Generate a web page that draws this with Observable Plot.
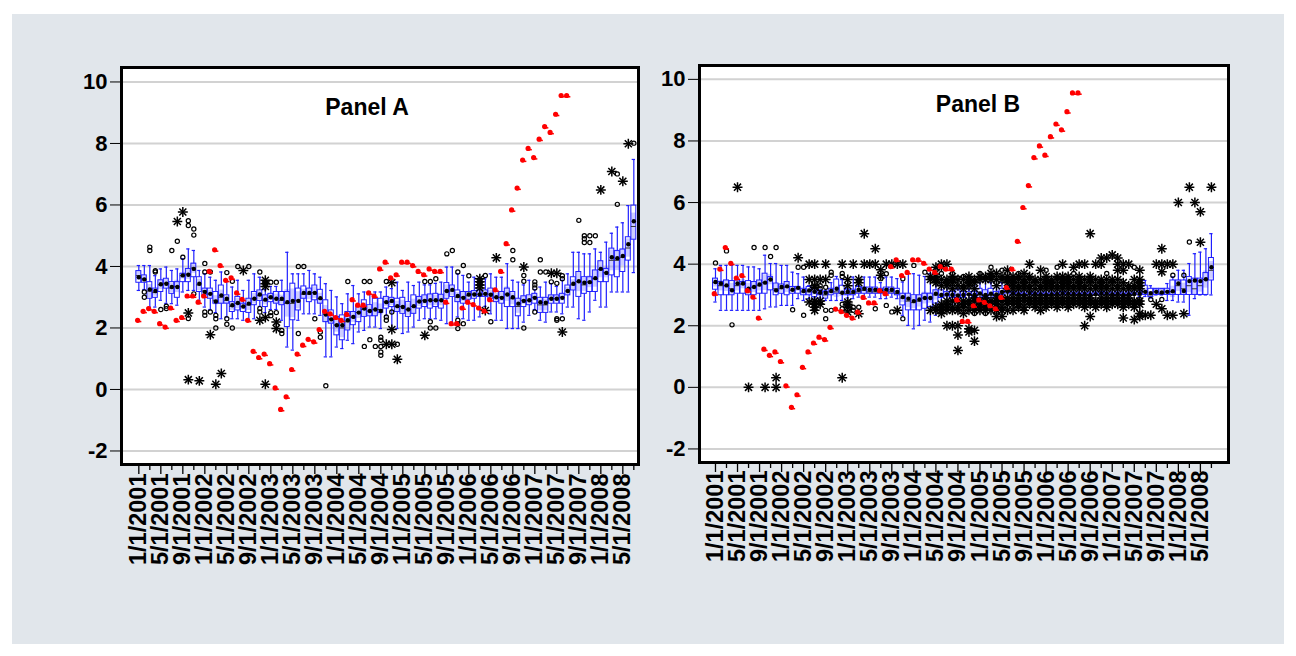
<!DOCTYPE html>
<html><head><meta charset="utf-8">
<script src="https://cdn.jsdelivr.net/npm/d3@7"></script>
<script src="https://cdn.jsdelivr.net/npm/@observablehq/plot@0.6"></script>
<style>
html,body{margin:0;padding:0;background:#fff;}
#page{position:relative;width:1296px;height:656px;overflow:hidden;background:#fff;font-family:"Liberation Sans",Arial,sans-serif;}
#bg{position:absolute;left:12px;top:14px;width:1272px;height:630px;background:#e1e6eb;}
#pa,#pb{position:absolute;top:0;}
#pa{left:0px}
#pb{left:640px}
#pa svg text,#pb svg text{font-weight:bold;}
</style></head><body>
<div id="page"><div id="bg"></div><div id="pa"></div><div id="pb"></div></div>
<script>
// ---------- shared categories ----------
const months = d3.range(91); // Jan 2001 ... Jul 2008, monthly
const tickLabels = ["1/1/2001","5/1/2001","9/1/2001","1/1/2002","5/1/2002","9/1/2002","1/1/2003","5/1/2003","9/1/2003","1/1/2004","5/1/2004","9/1/2004","1/1/2005","5/1/2005","9/1/2005","1/1/2006","5/1/2006","9/1/2006","1/1/2007","5/1/2007","9/1/2007","1/1/2008","5/1/2008"];
const tickMonths = tickLabels.map((_, i) => i * 4);
const minorMonths = tickMonths.map(m => m + 2).filter(m => m < 91);
const yTicks = [-2, 0, 2, 4, 6, 8, 10];

// ---------- realized series (red) ----------
const redVals = [2.25,2.54,2.63,2.54,2.14,2.03,2.65,2.25,2.34,3.04,
3.04,2.84,3.04,3.84,4.54,4.03,3.55,3.63,3.14,2.93,
2.25,1.24,1.04,1.15,0.84,0.05,-0.65,-0.24,0.65,1.15,
1.44,1.63,1.55,1.95,2.54,2.46,2.34,2.25,2.44,2.92,
2.74,2.74,3.14,3.04,3.92,4.14,3.63,3.73,4.14,4.14,
4.03,3.84,3.73,3.92,3.84,3.84,2.84,2.14,2.14,2.65,
2.84,2.76,2.65,2.55,2.92,3.24,3.84,4.74,5.84,6.55,
7.46,7.84,7.54,8.14,8.55,8.36,8.95,9.56,9.56];
const panelBLead = 12; // panel B shows the realized series 12 months ahead

// ---------- Panel A box statistics ----------
const loA = [3.22,3.25,2.68,2.68,2.9,2.8,2.79,2.74,3.17,3.22,
3.22,2.9,2.68,2.6,2.5,2.3,2.36,2.3,2.3,2.25,
2.25,2.3,2.7,2.5,2.6,2.6,2.25,1.38,1.28,2.25,
2.46,2.46,2.46,2.41,1.06,1.06,1.38,1.33,1.6,1.49,
1.87,1.92,2.03,2.03,1.98,2.4,1.98,1.98,1.82,1.87,
2.03,2.25,2.3,2.3,2.3,2.25,2.14,2.14,2.36,2.3,
2.25,2.25,2.36,2.7,2.46,2.25,2.25,1.98,1.98,1.98,
2.19,2.41,2.6,2.25,2.19,2.52,2.52,2.46,2.68,2.68,
2.3,2.25,2.52,2.9,2.68,2.68,3.17,3.17,3.17,3.17,3.8];
const q1A = [3.47,3.47,2.95,2.98,3.17,3.28,3.11,2.98,3.49,3.49,
3.65,3.17,3.06,2.95,2.79,2.79,2.79,2.52,2.57,2.52,
2.49,2.74,2.88,2.68,2.84,2.79,2.74,2.03,2.25,2.57,
2.95,2.84,2.9,2.79,2.19,2.14,1.76,1.6,1.92,2.09,
2.19,2.36,2.38,2.38,2.49,2.63,2.68,2.52,2.46,2.36,
2.46,2.63,2.68,2.63,2.68,2.63,2.95,3.01,2.84,2.79,
2.92,2.95,3.01,3.01,2.95,2.84,2.79,2.68,2.68,2.38,
2.68,2.74,2.79,2.49,2.49,2.79,2.79,2.79,3.06,3.22,
3.01,3.11,3.17,3.17,3.49,3.49,3.71,3.65,3.82,4.19,4.87];
const medA = [3.7,3.6,3.2,3.15,3.4,3.45,3.3,3.35,3.7,3.75,
3.95,3.4,3.2,3.1,2.9,3.0,2.9,2.7,2.8,2.7,
2.75,2.95,3.05,2.9,3.0,2.95,2.9,2.8,2.8,2.9,
3.1,3.1,3.15,2.95,2.45,2.3,2.1,2.0,2.2,2.35,
2.5,2.6,2.55,2.6,2.6,2.85,2.85,2.7,2.7,2.6,
2.7,2.85,2.9,2.9,2.9,2.9,3.2,3.2,3.0,3.0,
3.05,3.1,3.1,3.1,3.1,3.0,3.0,3.1,2.95,2.7,
2.9,2.9,3.0,2.75,2.75,2.95,2.95,3.0,3.2,3.4,
3.5,3.4,3.5,3.6,3.9,3.8,4.2,4.2,4.3,4.6,5.3];
const q3A = [3.85,3.71,3.49,3.28,3.55,3.6,3.49,3.49,3.76,3.92,
4.09,3.65,3.28,3.28,3.17,3.38,3.06,2.84,3.01,2.79,
2.95,3.17,3.22,3.06,3.11,3.17,3.17,3.17,3.44,3.28,
3.35,3.28,3.38,3.24,2.9,2.57,2.36,2.41,2.52,2.52,
2.68,2.9,2.74,2.95,2.95,3.01,2.98,2.95,2.98,2.84,
3.06,3.01,3.06,3.09,3.11,3.08,3.46,3.38,3.22,3.17,
3.17,3.2,3.22,3.22,3.28,3.17,3.17,3.28,3.17,2.95,
3.03,3.06,3.11,2.98,2.98,3.06,3.06,3.11,3.38,3.65,
3.82,3.65,3.65,3.87,4.17,3.92,4.58,4.5,4.55,4.95,5.98];
const hiA = [4.03,4.03,4.03,3.7,3.92,3.98,3.87,3.92,4.25,4.57,
4.52,3.87,3.76,3.65,3.55,3.82,3.55,3.33,3.55,3.22,
3.55,3.76,3.65,3.25,3.35,3.35,3.55,4.46,3.76,3.76,
3.76,3.87,3.76,3.65,3.44,3.22,3.01,2.79,3.11,3.38,
3.11,3.17,3.17,3.17,3.17,3.33,3.28,3.49,3.22,3.49,
3.38,3.49,3.4,3.4,3.45,3.49,3.98,3.98,3.76,3.71,
3.49,3.65,3.25,3.6,3.76,3.65,3.65,4.09,3.55,3.49,
3.4,3.55,3.25,3.33,3.49,3.44,3.35,3.55,3.76,4.46,
4.46,4.41,4.41,4.57,4.46,4.79,5.08,5.28,5.42,5.98,7.48];
const meanA = [3.65,3.58,3.25,3.2,3.42,3.44,3.33,3.33,3.71,3.73,
3.92,3.44,3.17,3.11,2.86,3.06,2.95,2.74,2.81,2.7,
2.79,2.95,3.09,2.92,3.0,2.95,2.95,2.84,2.88,2.88,
3.14,3.14,3.14,2.97,2.44,2.28,2.09,2.09,2.25,2.36,
2.5,2.63,2.55,2.6,2.55,2.84,2.88,2.71,2.68,2.6,
2.71,2.86,2.88,2.9,2.9,2.9,3.2,3.24,3.04,2.98,
3.09,3.09,3.09,3.11,3.08,3.0,2.98,3.09,3.0,2.79,
2.88,2.9,2.98,2.84,2.82,2.95,2.95,2.98,3.2,3.44,
3.52,3.47,3.49,3.62,3.92,3.79,4.3,4.27,4.34,4.72,5.47];
// near outliers (circles) and far outliers (asterisks): [month, value]
const nearA = [[1,3.17],[1,3.0],[2,4.63],[2,4.52],[3,3.86],[3,3.82],[4,2.6],[5,2.71],[5,2.63],[6,4.52],[7,4.82],[8,4.3],[9,5.49],[9,5.33],[10,5.22],[10,5.02],[10,3.11],[9,2.31],[12,4.1],[12,3.82],[13,3.82],[12,2.52],[12,2.41],[13,2.52],[14,2.41],[14,2.3],[14,2.0],[16,3.8],[16,2.3],[16,2.12],[17,3.52],[17,2.0],[18,4.0],[20,4.0],[22,3.82],[22,2.63],[22,2.52],[24,3.49],[25,3.49],[24,2.5],[24,2.4],[25,2.5],[26,1.92],[26,1.82],[29,1.82],[29,4.0],[30,4.0],[32,2.3],[33,1.87],[33,1.7],[34,0.12],[38,3.51],[41,3.51],[42,3.51],[45,3.51],[41,1.4],[43,1.4],[42,1.62],[44,1.7],[44,1.6],[44,1.4],[44,1.22],[44,1.11],[45,2.36],[45,2.25],[46,2.52],[47,1.47],[52,3.51],[53,3.51],[53,2.2],[53,2.0],[54,2.0],[54,3.6],[56,4.41],[57,4.52],[58,3.82],[58,2.25],[58,2.14],[58,1.98],[59,4.03],[59,2.14],[60,3.7],[63,3.71],[62,3.45],[64,2.2],[68,4.52],[68,4.22],[70,3.71],[70,3.52],[70,2.0],[72,3.5],[72,3.4],[72,3.3],[72,2.52],[73,4.22],[73,3.82],[74,3.82],[75,3.5],[76,3.45],[77,3.7],[77,3.6],[76,2.3],[76,2.25],[77,2.3],[80,5.5],[81,5.0],[81,4.9],[81,4.78],[82,5.0],[82,4.78],[83,5.0],[87,7.01],[87,6.02],[90,8.01]];
const farA = [[7,5.46],[8,5.77],[9,2.49],[9,0.32],[11,0.28],[13,1.78],[14,0.17],[15,0.52],[19,3.87],[22,2.25],[23,3.55],[23,3.44],[23,3.35],[23,2.34],[23,0.17],[25,2.19],[25,1.98],[45,1.47],[46,1.47],[46,3.47],[46,1.95],[47,0.98],[52,1.76],[62,3.6],[62,3.5],[62,3.4],[62,3.3],[63,2.57],[65,4.28],[70,3.98],[75,3.78],[76,3.78],[77,1.87],[84,6.49],[86,7.09],[88,6.77],[89,7.99]];

// ---------- Panel B box statistics ----------
const loB = [2.77,2.5,2.5,2.5,2.5,2.5,2.5,2.5,2.5,2.55,
2.61,2.61,2.66,2.66,2.66,2.88,2.82,2.88,2.9,2.9,
2.82,2.82,2.82,2.82,2.9,2.88,2.93,2.93,2.93,2.93,
2.88,2.88,2.93,2.88,2.34,2.01,1.9,2.01,2.18,2.12,
2.34,2.6,2.7,2.7,2.5,2.6,2.8,2.7,2.6,2.6,
2.6,2.7,2.8,2.9,3.0,3.0,2.95,3.0,3.0,3.0,
2.95,3.0,3.0,3.0,3.0,3.0,3.0,3.0,2.95,3.0,
3.0,3.0,3.0,3.0,2.95,3.0,3.0,2.95,2.95,2.9,
3.0,3.0,2.82,2.82,2.77,2.77,2.34,2.88,3.0,3.0,3.0];
const q1B = [3.17,2.99,2.99,2.99,3.04,3.04,2.99,2.99,3.04,3.04,
3.15,2.99,3.04,2.99,3.04,3.04,2.99,2.99,2.93,2.99,
2.88,2.99,3.04,3.04,2.99,2.99,3.04,3.04,3.04,3.04,
3.04,3.02,3.04,2.99,2.66,2.5,2.5,2.5,2.55,2.61,
2.72,2.9,2.95,2.9,2.9,2.9,3.0,2.9,2.9,2.85,
2.9,2.95,3.0,3.05,3.0,3.0,3.0,3.0,3.0,3.0,
3.0,3.0,3.0,3.0,3.0,3.0,3.0,3.0,3.0,3.0,
3.0,3.0,3.0,3.0,3.0,3.0,3.0,3.0,3.0,2.93,
3.0,3.0,3.0,3.0,3.0,3.0,3.0,3.0,3.0,3.0,3.47];
const medB = [3.4,3.3,3.3,3.2,3.3,3.35,3.2,3.25,3.3,3.4,
3.5,3.2,3.2,3.25,3.15,3.2,3.1,3.1,3.1,3.05,
3.0,3.1,3.1,3.05,3.05,3.05,3.1,3.15,3.1,3.1,
3.1,3.1,3.1,3.05,2.9,2.8,2.75,2.8,2.9,2.9,
3.0,3.0,3.0,3.0,3.0,3.0,3.0,3.0,3.0,3.0,
3.0,3.0,3.05,3.1,3.0,3.0,3.0,3.0,3.0,3.0,
3.0,3.0,3.0,3.0,3.0,3.0,3.0,3.0,3.0,3.0,
3.0,3.0,3.0,3.0,3.0,3.0,3.0,3.0,3.1,3.0,
3.1,3.05,3.1,3.1,3.3,3.2,3.3,3.2,3.3,3.5,3.8];
const q3B = [3.53,3.42,3.47,3.45,3.47,3.42,3.45,3.42,3.47,3.69,
3.58,3.37,3.34,3.42,3.26,3.26,3.2,3.26,3.2,3.15,
3.1,3.2,3.5,3.3,3.17,3.17,3.26,3.24,3.24,3.24,
3.2,3.24,3.24,3.2,3.04,3.04,2.99,2.99,3.04,3.04,
3.15,3.15,3.1,3.1,3.15,3.1,3.1,3.1,3.2,3.15,
3.2,3.1,3.2,3.3,3.1,3.05,3.05,3.1,3.05,3.05,
3.05,3.05,3.05,3.1,3.05,3.05,3.05,3.05,3.05,3.05,
3.1,3.05,3.05,3.05,3.05,3.05,3.05,3.1,3.3,3.2,
3.2,3.2,3.2,3.47,3.47,3.47,3.58,3.53,3.53,3.71,4.2];
const hiB = [3.85,3.96,3.96,3.96,3.96,3.96,3.91,3.91,3.85,4.29,
4.02,4.02,3.96,3.96,3.74,3.69,3.58,3.3,3.2,3.15,
3.15,3.4,3.6,3.5,3.2,3.58,3.3,3.58,3.58,3.58,
3.4,3.58,3.58,3.53,3.42,3.74,3.69,3.64,3.6,3.69,
3.64,3.4,3.3,3.3,3.3,3.3,3.2,3.3,3.4,3.45,
3.4,3.3,3.4,3.5,3.1,3.1,3.1,3.2,3.1,3.1,
3.1,3.1,3.1,3.1,3.1,3.1,3.1,3.1,3.1,3.1,
3.1,3.1,3.1,3.1,3.1,3.1,3.1,3.2,3.47,3.3,
3.2,3.2,3.37,3.58,3.8,3.8,4.02,4.34,4.39,4.5,4.99];
const meanB = [3.42,3.37,3.31,3.15,3.37,3.37,3.2,3.26,3.34,3.4,
3.5,3.15,3.26,3.28,3.17,3.23,3.13,3.15,3.1,3.07,
3.07,3.13,3.2,3.07,3.1,3.1,3.17,3.2,3.17,3.17,
3.13,3.17,3.17,3.1,2.93,2.88,2.8,2.85,2.9,2.9,
3.04,3.0,3.02,3.0,2.98,3.0,3.02,3.0,3.05,3.0,
3.04,3.02,3.1,3.13,3.05,3.02,3.0,3.06,3.03,3.02,
3.0,3.02,3.03,3.05,3.04,3.03,3.02,3.03,3.0,3.02,
3.05,3.04,3.02,3.03,3.0,3.02,3.03,3.04,3.1,3.06,
3.1,3.08,3.1,3.12,3.37,3.13,3.45,3.47,3.45,3.51,3.9];
const nearB = [[0,4.04],[2,4.43],[3,2.03],[7,4.54],[9,4.54],[11,4.54],[10,4.25],[14,2.52],[15,3.9],[16,3.9],[16,2.34],[19,3.3],[19,3.2],[20,3.25],[20,2.5],[20,2.23],[21,3.74],[21,3.64],[21,2.5],[23,3.7],[23,3.6],[23,2.7],[23,2.55],[25,2.6],[25,2.5],[26,2.6],[29,2.55],[30,3.53],[31,3.69],[31,2.66],[32,2.45],[34,2.23],[34,3.53],[36,3.96],[38,3.74],[40,3.8],[41,3.7],[43,3.7],[44,3.55],[45,3.6],[47,2.4],[48,3.7],[49,2.4],[50,3.9],[51,2.45],[52,3.8],[55,3.7],[60,3.8],[62,3.9],[65,3.7],[71,3.7],[76,3.9],[77,2.85],[79,2.85],[81,2.85],[83,3.64],[85,3.64],[86,4.72]];
const farB = [[4,6.5],[6,0.0],[9,0.0],[11,0.0],[11,0.31],[15,4.21],[17,4.0],[17,3.5],[17,2.77],[18,4.0],[18,3.5],[18,3.3],[18,3.25],[18,2.8],[18,2.7],[18,2.6],[18,2.5],[19,3.5],[19,2.8],[19,2.7],[20,4.0],[20,3.5],[23,4.0],[23,0.31],[24,3.5],[24,3.3],[24,2.77],[24,2.7],[24,2.6],[24,2.45],[25,4.0],[26,3.5],[26,3.4],[26,2.39],[27,4.0],[27,4.99],[28,4.0],[29,4.0],[29,4.5],[30,3.82],[30,3.64],[31,4.0],[32,4.0],[33,4.0],[33,2.5],[34,4.0],[68,4.99],[81,4.5],[84,6.0],[86,6.5],[87,6.0],[88,5.7],[88,4.71],[90,6.5],[80,4.0],[81,4.0],[82,4.0],[83,4.0],[81,3.75],[78,2.34],[79,2.34],[82,2.34],[83,2.34],[85,2.39],[80,2.7],[81,2.55]];
// dense far outliers, month by month, for 2004-2007 in panel B
const farBDense = [
[39,[2.5,3.5,3.6]],[40,[2.5,2.6,3.4,3.5,3.6,3.9]],[41,[2.4,2.5,2.6,2.7,3.3,3.5,3.9,4.0]],
[42,[2.0,2.5,2.6,2.7,2.8,3.3,3.4,3.5,4.0]],[43,[2.0,2.5,2.6,2.8,3.2,3.4,3.5,3.6]],
[44,[1.2,1.7,2.0,2.5,2.6,2.8,3.3,3.5]],[45,[2.4,2.6,2.7,2.8,3.2,3.3,3.5]],
[46,[1.8,1.9,2.5,2.7,2.8,3.3,3.4,3.5,3.6]],[47,[1.5,1.85,2.5,2.6,2.8,2.9,3.2,3.4,3.5]],
[48,[2.5,2.6,2.7,2.8,3.5,3.6]],[49,[2.5,2.6,2.7,2.8,2.9,3.5,3.6]],[50,[2.5,2.7,2.8,3.5,3.6,3.7]],
[51,[2.3,2.5,2.6,2.7,2.8,2.9,3.3,3.5,3.7]],[52,[2.3,2.5,2.6,2.8,2.9,3.5,3.6]],
[53,[2.5,2.7,2.8,2.9,3.2,3.4,3.5,3.6,3.8]],[54,[2.5,2.7,2.8,2.9,3.2,3.3,3.4,3.5,3.6]],
[55,[2.6,2.7,2.8,2.9,3.2,3.3,3.5,3.6]],[56,[2.5,2.6,2.8,2.9,3.2,3.3,3.4,3.5,3.7]],
[57,[2.7,2.8,2.9,3.2,3.3,3.5,3.6,4.0]],[58,[2.6,2.7,2.8,2.9,3.2,3.4,3.5]],
[59,[2.5,2.7,2.8,2.9,3.2,3.3,3.5,3.8]],[60,[2.6,2.7,2.8,2.9,3.2,3.3,3.4,3.5,3.6]],
[61,[2.7,2.8,2.9,3.2,3.3,3.4,3.5]],[62,[2.6,2.7,2.8,2.9,3.2,3.3,3.5,3.6]],
[63,[2.7,2.8,2.9,3.2,3.3,3.4,3.5,3.6,4.0]],[64,[2.6,2.7,2.8,2.9,3.2,3.3,3.4,3.5,3.6]],
[65,[2.7,2.8,2.9,3.2,3.3,3.5,3.9]],[66,[2.7,2.8,2.9,3.2,3.3,3.4,3.5,3.6,4.0]],
[67,[2.0,2.6,2.7,2.8,2.9,3.2,3.3,3.5,4.0]],[68,[2.3,2.7,2.8,2.9,3.2,3.4,3.5,3.6]],
[69,[2.6,2.7,2.8,3.2,3.3,3.5,4.0]],[70,[2.7,2.8,2.9,3.2,3.3,3.4,3.5,4.0,4.2]],
[71,[2.6,2.7,2.8,2.9,3.2,3.3,3.5,4.2]],[72,[2.7,2.8,2.9,3.2,3.4,3.5,4.3]],
[73,[2.7,2.8,2.9,3.2,3.3,3.5,3.8,4.0,4.2]],[74,[2.25,2.6,2.7,2.8,2.9,3.2,3.4,3.8,4.0]],
[75,[2.7,2.8,2.9,3.2,3.3,4.0]],[76,[2.2,2.6,2.7,2.8,3.2,3.3,3.5]],
[77,[2.3,2.4,2.7,2.8,3.2,3.3,3.4,3.5,3.8]]
];

// ---------- build tables ----------
const boxTable = (lo, q1, med, q3, hi, mean) => months.map(i => ({m: i, lo: lo[i], q1: q1[i], med: med[i], q3: q3[i], hi: hi[i], mean: mean[i]}));
const pairs = arr => arr.map(([m, v]) => ({m, v}));
const boxA = boxTable(loA, q1A, medA, q3A, hiA, meanA);
const boxB = boxTable(loB, q1B, medB, q3B, hiB, meanB);
const redA = redVals.map((v, i) => ({m: i, v}));
const redB = redVals.slice(panelBLead).map((v, i) => ({m: i, v}));
const farBAll = pairs(farB).concat(farBDense.flatMap(([m, vs]) => vs.map(v => ({m, v}))));

const BLUE = "#1f1fff";
const HW = 0.45;       // half box width (months)
const notchK = 1.57 / Math.sqrt(16); // median confidence band factor

function panelMarks(box, red, near, far, title, tdx, tdy, labelDy) {
  return [
    Plot.frame({fill: "white"}),
    Plot.ruleY(yTicks, {stroke: "#d2d2d2", strokeWidth: 2}),
    Plot.rect(box, {x1: d => d.m - HW, x2: d => d.m + HW, y1: d => d.med - notchK * (d.q3 - d.q1), y2: d => d.med + notchK * (d.q3 - d.q1), fill: "#9090ff", fillOpacity: 0.45}),
    Plot.rect(box, {x1: d => d.m - HW, x2: d => d.m + HW, y1: "q1", y2: "q3", fill: "none", stroke: BLUE, strokeWidth: 1}),
    Plot.ruleX(box, {x: "m", y1: "q3", y2: "hi", stroke: BLUE, strokeWidth: 1.2}),
    Plot.ruleX(box, {x: "m", y1: "lo", y2: "q1", stroke: BLUE, strokeWidth: 1.2}),
    Plot.ruleY(box, {y: "hi", x1: d => d.m - 0.3, x2: d => d.m + 0.3, stroke: BLUE, strokeWidth: 1.2}),
    Plot.ruleY(box, {y: "lo", x1: d => d.m - 0.3, x2: d => d.m + 0.3, stroke: BLUE, strokeWidth: 1.2}),
    Plot.ruleY(box, {y: "med", x1: d => d.m - HW, x2: d => d.m + HW, stroke: "#333", strokeWidth: 1}),
    Plot.dot(pairs(near), {x: "m", y: "v", r: 2.1, stroke: "black", strokeWidth: 1.2, fill: "none"}),
    Plot.dot(far, {x: "m", y: "v", symbol: "plus", r: 3.3, stroke: "black", strokeWidth: 1.5}),
    Plot.dot(far, {x: "m", y: "v", symbol: "times", r: 3.3, stroke: "black", strokeWidth: 1.5}),
    Plot.dot(box, {x: "m", y: "mean", r: 2.2, fill: "black"}),
    Plot.ruleY(red, {y: "v", x1: d => d.m - 0.2, x2: d => d.m + 0.55, dy: 1.3, stroke: "red", strokeWidth: 1.5}),
    Plot.dot(red, {x: "m", y: "v", r: 2.6, fill: "red", dx: -1.2}),
    Plot.frame({stroke: "black", strokeWidth: 3}),
    Plot.axisY({ticks: yTicks, tickSize: 11, tickPadding: 3, tickFormat: d => String(d), fontSize: 22, fontWeight: "bold", label: null}),
    Plot.axisX({ticks: tickMonths, tickSize: 10, tickFormat: () => "", label: null, strokeWidth: 1.3}),
    Plot.axisX({ticks: minorMonths, tickSize: 6, tickFormat: () => "", label: null, strokeWidth: 1.3}),
    Plot.text(tickMonths, {x: d => d, frameAnchor: "bottom", text: (d, i) => tickLabels[i], rotate: -90, textAnchor: "end", lineAnchor: "middle", dy: labelDy, fontSize: 23.5, fontWeight: "bold", fill: "black"}),
    Plot.text([title], {frameAnchor: "top", text: d => d, dx: tdx, dy: tdy, fontSize: 23, fontWeight: "bold", fill: "black", lineAnchor: "middle"})
  ];
}

const common = {style: {background: "transparent", fontFamily: "'Liberation Sans', Arial, sans-serif", overflow: "visible"}};

const chartA = Plot.plot({
  ...common,
  width: 660, height: 600,
  marginLeft: 121, marginRight: 22, marginTop: 67, marginBottom: 136,
  x: {type: "linear", domain: [-3.15, 90.85], axis: null},
  y: {domain: [-2.44, 10.47], axis: null},
  marks: panelMarks(boxA, redA, nearA, pairs(farA), "Panel A", -13, 40.6, 9)
});
document.getElementById("pa").appendChild(chartA);

const chartB = Plot.plot({
  ...common,
  width: 656, height: 600,
  marginLeft: 59, marginRight: 68, marginTop: 65, marginBottom: 138,
  x: {type: "linear", domain: [-2.9, 93.1], axis: null},
  y: {domain: [-2.44, 10.45], axis: null},
  marks: panelMarks(boxB, redB, nearB, farBAll, "Panel B", 14, 39.6, 8)
});
document.getElementById("pb").appendChild(chartB);
</script>
</body></html>
